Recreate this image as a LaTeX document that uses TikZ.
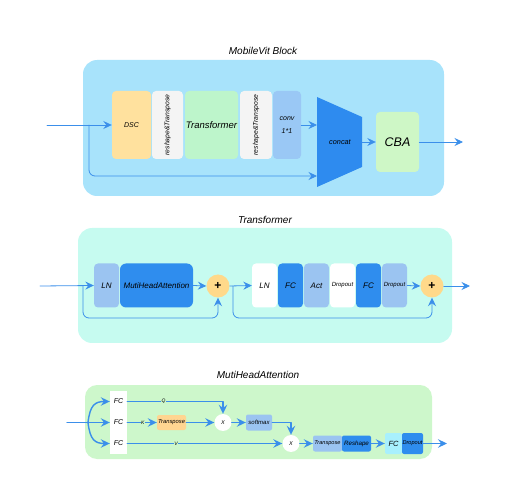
\documentclass[tikz,border=0pt]{standalone}
\usepackage{fontspec}
\setmainfont{Liberation Sans}
\usetikzlibrary{arrows.meta}
\definecolor{topbg}{HTML}{A8E3FB}
\definecolor{dscorange}{HTML}{FFE19E}
\definecolor{paper}{HTML}{F4F4F4}
\definecolor{trfgreen}{HTML}{BDF5CB}
\definecolor{convblue}{HTML}{9AC8F5}
\definecolor{concatblue}{HTML}{2E8BEF}
\definecolor{cbagreen}{HTML}{CEF7C6}
\definecolor{trbg}{HTML}{C6FBF0}
\definecolor{lnblue}{HTML}{9BC4F1}
\definecolor{mhablue}{HTML}{2F8DEE}
\definecolor{plusorange}{HTML}{FFD98A}
\definecolor{mhabg}{HTML}{CDF7CB}
\definecolor{trorange}{HTML}{FFD591}
\definecolor{fccyan}{HTML}{A8F0FD}
\definecolor{arrowblue}{HTML}{3B8FEA}
\newcommand\fsz[1]{\fontsize{#1}{#1}\selectfont\itshape}
\begin{document}
\begin{tikzpicture}[x=1pt, y=-1pt, font=\fsz{8}, line join=round, line cap=round,
	>={Stealth[length=8.5pt,width=8pt,inset=3pt]},
	flow/.style={->, draw=arrowblue, line width=0.8pt},
	flowb/.style={->, draw=arrowblue, line width=1.4pt, >={Stealth[length=9pt,width=8.5pt,inset=3.2pt]}},
	box/.style={inner sep=0pt, align=center, minimum height=#1, rounded corners=4},
	ttl/.style={font=\fsz{10}},
	lbl/.style={font=\fsz{5}, fill=mhabg, inner sep=0.4pt}]
	\useasboundingbox (0,0) rectangle (523,500);
	% MobileVit Block
	\fill[topbg, rounded corners=14] (83,60) rectangle (444,196);
	\node[ttl] (t1) at (263,51) {MobileVit Block};
	\node[box=68, minimum width=39, fill=dscorange, font=\fsz{7}] (dsc) at (131.5,125) {DSC};
	\node[box=68, minimum width=31, fill=paper] (rt1) at (167.5,125) {};
	\node[box=68, minimum width=53, fill=trfgreen, font=\fsz{9.5}] (trf) at (211.5,125) {Transformer};
	\node[box=68, minimum width=32, fill=paper] (rt2) at (256,125) {};
	\node[box=68, minimum width=28, fill=convblue, font=\fsz{7}] (conv) at (287,125) {conv\\[6pt]1*1};
	\foreach \r in {rt1,rt2} \node[rotate=90, font=\fsz{6.8}] at (\r) {reshape\&Transpose};
	\fill[concatblue] (317,97) -- (362,117) -- (362,167) -- (317,187) -- cycle;
	\node[font=\fsz{7.3}] (concat) at (340,142) {concat};
	\node[box=60, minimum width=43, fill=cbagreen, font=\fsz{12.5}] (cba) at (397.5,142) {CBA};
	\path (47,125) coordinate (in1) (89,125) coordinate (br1)
		(317,125) coordinate (cc1) (317,176) coordinate (cc2)
		(362,142) coordinate (cc3) (463,142) coordinate (out1);
	\draw[flow] (in1) -- (dsc.west);
	\draw[flow, rounded corners=6] (br1) |- (cc2);
	\draw[flow] (conv.east) -- (cc1);
	\draw[flow] (cc3) -- (cba.west);
	\draw[flow] (cba.east) -- (out1);
	% Transformer
	\fill[trbg, rounded corners=14] (78,228) rectangle (452,343);
	\node[ttl] (t2) at (265,220) {Transformer};
	\node[box=44, minimum width=25, fill=lnblue] (ln1) at (106.5,285.5) {LN};
	\node[box=44, minimum width=73, fill=mhablue, rounded corners=6] (mha) at (156.5,285.5) {MutiHeadAttention};
	\foreach \n/\x/\c/\t in {ln2/264.5/white/LN, fc1/290.5/mhablue/FC, act/316.5/lnblue/Act,
		drop1/342.5/white/{\fsz{6}Dropout}, fc2/368.5/mhablue/FC, drop2/394.5/lnblue/{\fsz{6}Dropout}}
		\node[box=44, minimum width=25, fill=\c] (\n) at (\x,285.5) {\t};
	\foreach \n/\x in {plus1/218, plus2/432}
		\node[circle, fill=plusorange, minimum size=23, inner sep=0pt, font=\fontsize{12}{12}\selectfont\bfseries] (\n) at (\x,286) {+};
	\path (40,286) coordinate (in2) (83,286) coordinate (br2) (233,286) coordinate (br3) (470,286) coordinate (out2);
	\draw[flow] (in2) -- (ln1.west);
	\draw[flow, rounded corners=6] (br2) -- (83,318) -| (plus1.south);
	\draw[flow] (mha.east) -- (plus1.west);
	\draw[flow] (plus1.east) -- (ln2.west);
	\draw[flow, rounded corners=6] (br3) -- (233,318) -| (plus2.south);
	\draw[flow] (drop2.east) -- (plus2.west);
	\draw[flow] (plus2.east) -- (out2);
	% MutiHeadAttention
	\fill[mhabg, rounded corners=12] (85,385) rectangle (432,459);
	\node[ttl] (t3) at (258,375) {MutiHeadAttention};
	\foreach \n/\y in {fq/401.5, fk/422.5, fv/443.5}
		\node[box=21, minimum width=17, fill=white, rounded corners=0, font=\fsz{7}] (\n) at (118.5,\y) {FC};
	\node[box=15, minimum width=29, fill=trorange, rounded corners=2, font=\fsz{5.8}] (tr1) at (171.5,422.5) {Transpose};
	\node[box=16, minimum width=26, fill=lnblue, rounded corners=2, font=\fsz{6}] (smx) at (259,422.5) {softmax};
	\foreach \n/\x/\y in {x1/223/422.5, x2/291/443.5}
		\node[circle, fill=white, minimum size=17, inner sep=0pt, font=\fsz{5.5}] (\n) at (\x,\y) {X};
	\node[box=16, minimum width=29, fill=lnblue, rounded corners=2, font=\fsz{5.6}] (tr2) at (327.5,443.5) {Transpose};
	\node[box=16, minimum width=29, fill=mhablue, rounded corners=2, font=\fsz{6.2}] (rsh) at (356.5,443.5) {Reshape};
	\node[box=21, minimum width=17, fill=fccyan, rounded corners=2, font=\fsz{7.5}] (fc3) at (393.5,443.5) {FC};
	\node[box=21, minimum width=21, fill=mhablue, rounded corners=2, font=\fsz{5.6}] (drp) at (412.5,443.5) {Dropout};
	\path (67,422.5) coordinate (in3) (88,422.5) coordinate (br4) (447,443.5) coordinate (out3);
	\draw[flowb] (in3) -- (fk.west);
	\draw[flowb] (br4) .. controls (90,405) and (95,401.5) .. (fq.west);
	\draw[flowb] (br4) .. controls (90,440) and (95,443.5) .. (fv.west);
	\draw[flowb] (fq.east) -| node[lbl, pos=0.19] {Q} (x1.north);
	\draw[flowb] (fk.east) -- node[lbl, pos=0.53] {K} (tr1.west);
	\draw[flowb] (tr1.east) -- (x1.west);
	\draw[flowb] (x1.east) -- (smx.west);
	\draw[flowb] (smx.east) -| (x2.north);
	\draw[flowb] (fv.east) -- node[lbl, pos=0.315] {V} (x2.west);
	\draw[flowb] (x2.east) -- (tr2.west);
	\draw[flowb] (rsh.east) -- (fc3.west);
	\draw[flowb] (drp.east) -- (out3);
\end{tikzpicture}
\end{document}
